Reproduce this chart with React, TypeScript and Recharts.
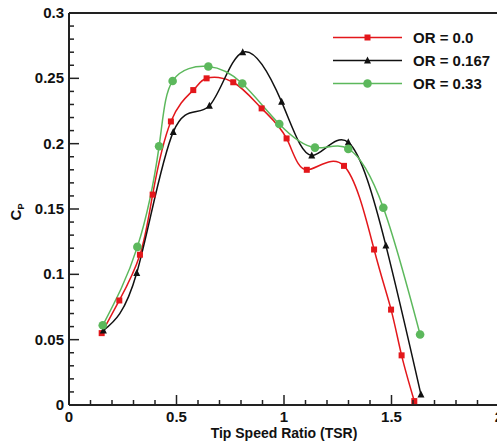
import { LineChart, Line, XAxis, YAxis, ReferenceLine } from 'recharts';

// TSR / Cp
const tsrOR0 = [0.152, 0.234, 0.33, 0.389, 0.474, 0.578, 0.64, 0.764, 0.896, 1.012, 1.106, 1.279, 1.419, 1.498, 1.547, 1.606];
const cpOR0 = [0.055, 0.08, 0.115, 0.161, 0.217, 0.241, 0.25, 0.247, 0.227, 0.204, 0.18, 0.183, 0.119, 0.073, 0.038, 0.003];
const tsrOR167 = [0.16, 0.315, 0.485, 0.653, 0.808, 0.989, 1.129, 1.299, 1.474, 1.637];
const cpOR167 = [0.057, 0.101, 0.209, 0.229, 0.27, 0.232, 0.191, 0.201, 0.122, 0.008];
const tsrOR33 = [0.157, 0.318, 0.419, 0.482, 0.648, 0.806, 0.978, 1.144, 1.299, 1.462, 1.633];
const cpOR33 = [0.061, 0.121, 0.198, 0.248, 0.259, 0.246, 0.215, 0.197, 0.196, 0.151, 0.054];

const seriesNames = ['OR = 0.0', 'OR = 0.167', 'OR = 0.33'];
const xTickLabels = ['0', '0.5', '1', '1.5', '2'];
const yTickLabels = ['0', '0.05', '0.1', '0.15', '0.2', '0.25', '0.3'];

const RED = '#e3171b';
const BLACK = '#111111';
const GREEN = '#5cb85c';
const AXIS = '#222222';
const FONT = '"Liberation Sans", Arial, sans-serif';

const toPoints = (xs: number[], ys: number[]) => xs.map((x, i) => ({ x, y: ys[i] }));
const dataOR0 = toPoints(tsrOR0, cpOR0);
const dataOR167 = toPoints(tsrOR167, cpOR167);
const dataOR33 = toPoints(tsrOR33, cpOR33);

// minor ticks every 0.1 on x, every 0.01 on y
const xTicks = Array.from({ length: 21 }, (_, i) => i / 10);
const yTicks = Array.from({ length: 31 }, (_, i) => i / 100);

const findLabel = (labels: string[], v: number) => labels.find((l) => Math.abs(parseFloat(l) - v) < 1e-6);

const XTick = (props: any) => {
  const { x, y, payload } = props;
  const label = findLabel(xTickLabels, payload.value);
  const len = label ? 10 : 5;
  return (
    <g>
      <line x1={x} x2={x} y1={y} y2={y - len} stroke={AXIS} strokeWidth={1.5} />
      {label && (
        <text x={x} y={y + 17} textAnchor="middle" fontSize={15} fontWeight="bold" fontFamily={FONT} fill="#111">
          {label}
        </text>
      )}
    </g>
  );
};

const YTick = (props: any) => {
  const { x, y, payload } = props;
  const label = findLabel(yTickLabels, payload.value);
  const len = label ? 10 : 5;
  return (
    <g>
      <line x1={x} x2={x + len} y1={y} y2={y} stroke={AXIS} strokeWidth={1.5} />
      {label && (
        <text x={x - 5} y={y + 5} textAnchor="end" fontSize={15} fontWeight="bold" fontFamily={FONT} fill="#111">
          {label}
        </text>
      )}
    </g>
  );
};

const Square = (props: any) => {
  const { cx, cy, index } = props;
  return <rect key={`s${index}`} x={cx - 3} y={cy - 3} width={6} height={6} fill={RED} />;
};

const Triangle = (props: any) => {
  const { cx, cy, index } = props;
  return (
    <polygon key={`t${index}`} points={`${cx},${cy - 4} ${cx - 3.5},${cy + 3} ${cx + 3.5},${cy + 3}`} fill={BLACK} />
  );
};

const Circle = (props: any) => {
  const { cx, cy, index } = props;
  return <circle key={`c${index}`} cx={cx} cy={cy} r={4.3} fill={GREEN} />;
};

const legendColors = [RED, BLACK, GREEN];

const LegendMarker = ({ i }: { i: number }) => {
  if (i === 0) return <rect x={34.5} y={8.5} width={6} height={6} fill={RED} />;
  if (i === 1) return <polygon points="37.5,7.5 34,14.5 41,14.5" fill={BLACK} />;
  return <circle cx={37.5} cy={11.5} r={4.3} fill={GREEN} />;
};

const ChartLegend = () => (
  <div style={{ position: 'absolute', left: 330, top: 25.5, fontFamily: FONT }}>
    {seriesNames.map((name, i) => (
      <div key={name} style={{ display: 'flex', alignItems: 'center', height: 23 }}>
        <svg width={72} height={23}>
          <line x1={3} x2={72} y1={11.5} y2={11.5} stroke={legendColors[i]} strokeWidth={1.5} />
          <LegendMarker i={i} />
        </svg>
        <span style={{ marginLeft: 11, fontSize: 15, fontWeight: 'bold', color: '#111', whiteSpace: 'nowrap' }}>{name}</span>
      </div>
    ))}
  </div>
);

const YTitle = () => (
  <text
    x={21}
    y={212}
    transform="rotate(-90, 21, 212)"
    textAnchor="middle"
    fontSize={15}
    fontWeight="bold"
    fontFamily={FONT}
    fill="#111"
  >
    C<tspan fontSize={9} dy={3}>P</tspan>
  </text>
);

const XTitle = () => (
  <text x={284} y={438} textAnchor="middle" fontSize={14} fontWeight="bold" fontFamily={FONT} fill="#111">
    Tip Speed Ratio (TSR)
  </text>
);

export default function App() {
  return (
    <div style={{ position: 'absolute', left: 0, top: 0, width: 497, height: 443, background: '#fff' }}>
      <LineChart width={497} height={443} margin={{ top: 13, right: -2, bottom: 0, left: 0 }}>
        <XAxis
          type="number"
          dataKey="x"
          domain={[0, 2]}
          ticks={xTicks}
          interval={0}
          height={38}
          tickSize={0}
          tickMargin={0}
          tickLine={false}
          axisLine={{ stroke: AXIS, strokeWidth: 2 }}
          tick={<XTick />}
          label={{ content: () => <XTitle /> }}
          allowDataOverflow
        />
        <YAxis
          type="number"
          domain={[0, 0.3]}
          ticks={yTicks}
          interval={0}
          width={69}
          tickSize={0}
          tickMargin={0}
          tickLine={false}
          axisLine={{ stroke: AXIS, strokeWidth: 2 }}
          tick={<YTick />}
          label={{ content: () => <YTitle /> }}
          allowDataOverflow
        />
        <ReferenceLine y={0.3} stroke={AXIS} strokeWidth={2} />
        <Line
          data={dataOR0}
          dataKey="y"
          name={seriesNames[0]}
          type="natural"
          stroke={RED}
          strokeWidth={1.5}
          dot={Square}
          isAnimationActive={false}
        />
        <Line
          data={dataOR167}
          dataKey="y"
          name={seriesNames[1]}
          type="natural"
          stroke={BLACK}
          strokeWidth={1.5}
          dot={Triangle}
          isAnimationActive={false}
        />
        <Line
          data={dataOR33}
          dataKey="y"
          name={seriesNames[2]}
          type="natural"
          stroke={GREEN}
          strokeWidth={1.5}
          dot={Circle}
          isAnimationActive={false}
        />
      </LineChart>
      <ChartLegend />
    </div>
  );
}
